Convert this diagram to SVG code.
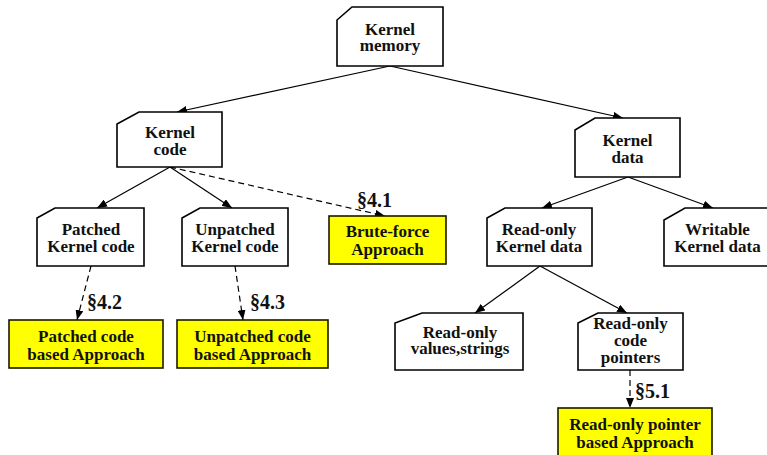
<svg xmlns="http://www.w3.org/2000/svg" width="767" height="455" viewBox="0 0 767 455">
  <style>
    .box { fill: #ffffff; stroke: #000000; stroke-width: 1.6; }
    .hl { fill: #ffff00; stroke: #1a1a00; stroke-width: 1.6; }
    .lbl { font-family: "Liberation Serif", "Times New Roman", serif; font-weight: bold; font-size: 17px; fill: #111111; text-anchor: middle; }
    .sec { font-family: "Liberation Serif", "Times New Roman", serif; font-weight: bold; font-size: 20px; fill: #111111; }
    .edge { fill: none; stroke: #000000; stroke-width: 1.2; marker-end: url(#arrow); }
    .dash { stroke-dasharray: 6 4; }
  </style>
  <defs>
    <marker id="arrow" markerUnits="userSpaceOnUse" markerWidth="10" markerHeight="8" refX="10" refY="4" orient="auto">
      <path d="M0,0 L10,4 L0,8 z" fill="#000000"/>
    </marker>
  </defs>

  <rect width="767" height="455" fill="#ffffff"/>

  <!-- connectors -->
  <g id="connectors">
    <line class="edge" x1="390" y1="66" x2="177" y2="112"/>
    <line class="edge" x1="390" y1="66" x2="623" y2="118"/>
    <line class="edge" x1="170" y1="167" x2="97" y2="208"/>
    <line class="edge" x1="170" y1="167" x2="232" y2="208"/>
    <line class="edge dash" x1="170" y1="167" x2="385" y2="216"/>
    <line class="edge" x1="628" y1="177" x2="542" y2="208"/>
    <line class="edge" x1="628" y1="177" x2="713" y2="208"/>
    <line class="edge" x1="540" y1="266" x2="475" y2="313"/>
    <line class="edge" x1="540" y1="266" x2="627" y2="313"/>
    <line class="edge dash" x1="91" y1="266" x2="77" y2="320"/>
    <line class="edge dash" x1="235" y1="266" x2="243" y2="320"/>
    <line class="edge dash" x1="630" y1="370" x2="630" y2="408"/>
    <text class="sec" x="357" y="207">§4.1</text>
    <text class="sec" x="87" y="309">§4.2</text>
    <text class="sec" x="250" y="309">§4.3</text>
    <text class="sec" x="635" y="398">§5.1</text>
  </g>

  <!-- tree nodes -->
  <g id="kernel-memory">
    <path class="box" d="M352,7 L443,7 L443,66 L337,66 L337,20 Z"/>
    <text class="lbl" x="390" y="35">Kernel</text>
    <text class="lbl" x="390" y="51">memory</text>
  </g>
  <g id="kernel-code">
    <path class="box" d="M139,112 L222,112 L222,167 L117,167 L117,124 Z"/>
    <text class="lbl" x="170" y="138">Kernel</text>
    <text class="lbl" x="170" y="155">code</text>
  </g>
  <g id="kernel-data">
    <path class="box" d="M595,118 L680,118 L680,177 L575,177 L575,130 Z"/>
    <text class="lbl" x="627.5" y="146">Kernel</text>
    <text class="lbl" x="627.5" y="163">data</text>
  </g>
  <g id="patched-kernel-code">
    <path class="box" d="M55,208 L144,208 L144,266 L37,266 L37,218 Z"/>
    <text class="lbl" x="91" y="235">Patched</text>
    <text class="lbl" x="91" y="252">Kernel code</text>
  </g>
  <g id="unpatched-kernel-code">
    <path class="box" d="M200,208 L288,208 L288,266 L182,266 L182,218 Z"/>
    <text class="lbl" x="235" y="235">Unpatched</text>
    <text class="lbl" x="235" y="252">Kernel code</text>
  </g>
  <g id="readonly-kernel-data">
    <path class="box" d="M505,208 L592,208 L592,266 L487,266 L487,218 Z"/>
    <text class="lbl" x="539" y="235">Read-only</text>
    <text class="lbl" x="539" y="252">Kernel data</text>
  </g>
  <g id="writable-kernel-data">
    <path class="box" d="M685,208 L775,208 L775,266 L664,266 L664,220 Z"/>
    <text class="lbl" x="717.5" y="235">Writable</text>
    <text class="lbl" x="717.5" y="252">Kernel data</text>
  </g>
  <g id="readonly-values">
    <path class="box" d="M422,313 L523,313 L523,370 L395,370 L395,323 Z"/>
    <text class="lbl" x="460" y="338">Read-only</text>
    <text class="lbl" x="460" y="354">values,strings</text>
  </g>
  <g id="readonly-code-pointers">
    <path class="box" d="M598,313 L683,313 L683,370 L578,370 L578,323 Z"/>
    <text class="lbl" x="630.5" y="329">Read-only</text>
    <text class="lbl" x="630.5" y="346">code</text>
    <text class="lbl" x="630.5" y="363">pointers</text>
  </g>

  <!-- approaches -->
  <g id="brute-force">
    <rect class="hl" x="329" y="216" width="117" height="48"/>
    <text class="lbl" x="387.5" y="237">Brute-force</text>
    <text class="lbl" x="387.5" y="255">Approach</text>
  </g>
  <g id="patched-approach">
    <rect class="hl" x="9" y="320" width="154" height="48"/>
    <text class="lbl" x="86" y="342">Patched code</text>
    <text class="lbl" x="86" y="360">based Approach</text>
  </g>
  <g id="unpatched-approach">
    <rect class="hl" x="177" y="320" width="151" height="48"/>
    <text class="lbl" x="252.5" y="342">Unpatched code</text>
    <text class="lbl" x="252.5" y="360">based Approach</text>
  </g>
  <g id="readonly-pointer-approach">
    <rect class="hl" x="558" y="408" width="154" height="52"/>
    <text class="lbl" x="635" y="430">Read-only pointer</text>
    <text class="lbl" x="635" y="448">based Approach</text>
  </g>
</svg>
